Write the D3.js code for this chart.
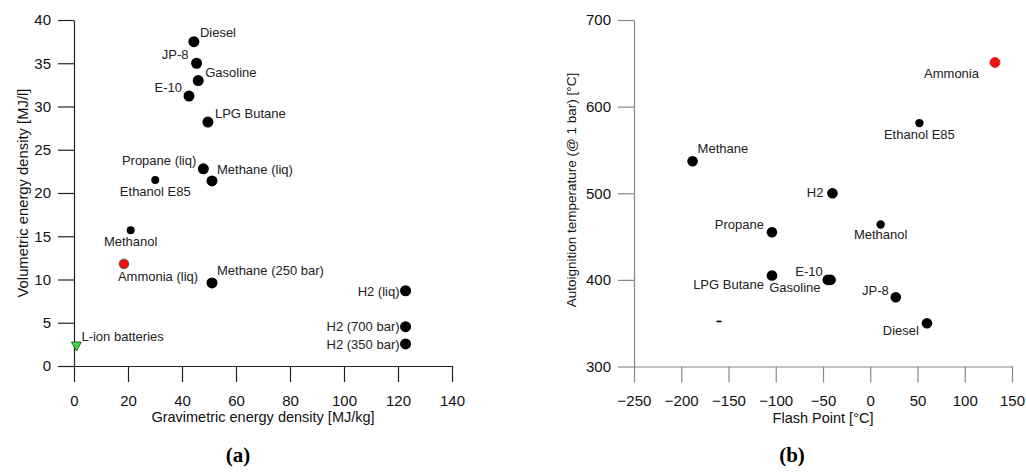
<!DOCTYPE html>
<html>
<head>
<meta charset="utf-8">
<script src="https://cdn.jsdelivr.net/npm/d3@7"></script>
<style>
  body { margin: 0; background: #fff; }
  svg text { font-family: "Liberation Sans", Arial, sans-serif; }
</style>
</head>
<body>
<script>
// ---- data (a): gravimetric vs volumetric energy density
var fuelsA = ["Diesel", "JP-8", "Gasoline", "E-10", "LPG Butane", "Propane (liq)", "Methane (liq)",
  "Ethanol E85", "Methanol", "Ammonia (liq)", "Methane (250 bar)", "H2 (liq)", "H2 (700 bar)",
  "H2 (350 bar)", "L-ion batteries"];
var gravA = [44.4, 45.4, 46.0, 42.6, 49.6, 47.9, 51.1, 30.1, 21.0, 18.5, 51.1, 122.8, 122.8, 122.8, 0.9];
var volA = [37.5, 35.0, 33.0, 31.2, 28.2, 22.8, 21.4, 21.5, 15.7, 11.8, 9.6, 8.7, 4.55, 2.55, 2.2];

// ---- data (b): flash point vs autoignition temperature
var fuelsB = ["Ammonia", "Ethanol E85", "H2", "Methanol", "Propane", "Methane", "LPG Butane",
  "Gasoline", "E-10", "JP-8", "Diesel", ""];
var flashB = [132, 52, -40, 11, -104, -188, -104, -42, -45, 27, 60, -160];
var autoB = [651, 581, 500, 464, 455, 537, 405, 400, 400, 380, 350, 352];

var xTicksA = [0, 20, 40, 60, 80, 100, 120, 140];
var yTicksA = [0, 5, 10, 15, 20, 25, 30, 35, 40];
var xTicksB = [-250, -200, -150, -100, -50, 0, 50, 100, 150];
var yTicksB = [300, 400, 500, 600, 700];

// label placement [dx, dy, anchor]
var labA = {
  "Diesel": [6, -5, "start"], "JP-8": [-8, -4, "end"], "Gasoline": [7, -4, "start"],
  "E-10": [-7, -4, "end"], "LPG Butane": [7, -4, "start"], "Propane (liq)": [-7, -4, "end"],
  "Methane (liq)": [5, -7, "start"], "Ethanol E85": [0, 16, "middle"], "Methanol": [0, 16, "middle"],
  "Ammonia (liq)": [-6, 17, "start"], "Methane (250 bar)": [5, -8, "start"],
  "H2 (liq)": [-6, 5, "end"], "H2 (700 bar)": [-6, 4, "end"], "H2 (350 bar)": [-6, 5, "end"],
  "L-ion batteries": [5, -6, "start"]
};
var labB = {
  "Ammonia": [-16, 16, "end"], "Ethanol E85": [0, 16, "middle"], "H2": [-9, 4, "end"],
  "Methanol": [0, 15, "middle"], "Propane": [-8, -3, "end"], "Methane": [5, -8, "start"],
  "LPG Butane": [-8, 13, "end"], "Gasoline": [-10, 12, "end"], "E-10": [-5, -4, "end"],
  "JP-8": [-7, -2, "end"], "Diesel": [-8, 12, "end"]
};
var smallDots = ["Ethanol E85", "Methanol"];

var svg = d3.select("body").append("svg").attr("width", 1026).attr("height", 473);

function drawAxes(g, x, y, xt, yt, col, xStep, yStep) {
  var xMinor = d3.range(xt[0] + xStep / 2, xt[xt.length - 1], xStep);
  var yMinor = d3.range(yt[0] + yStep / 2, yt[yt.length - 1], yStep);
  var y0 = y.range()[0], x0 = x.range()[0];
  var gx = g.append("g").attr("transform", "translate(0," + y0 + ")");
  gx.call(d3.axisBottom(x).tickValues(xMinor).tickFormat("").tickSize(8).tickSizeOuter(0));
  gx.call(d3.axisBottom(x).tickValues(xt).tickSize(16).tickSizeOuter(0).tickPadding(13));
  var gy = g.append("g").attr("transform", "translate(" + x0 + ",0)");
  gy.call(d3.axisLeft(y).tickValues(yMinor).tickFormat("").tickSize(8).tickSizeOuter(0));
  gy.call(d3.axisLeft(y).tickValues(yt).tickSize(16).tickSizeOuter(0).tickPadding(7));
  g.selectAll(".domain, .tick line").attr("stroke", col).attr("stroke-width", 1.2);
  g.selectAll(".tick text").attr("font-size", 15).attr("fill", "#111")
    .style("font-family", '"Liberation Sans", Arial, sans-serif');
}

// ---------- chart (a)
var xA = d3.scaleLinear().domain([0, 140]).range([74, 452]);
var yA = d3.scaleLinear().domain([0, 40]).range([366, 20]);
var gA = svg.append("g");
drawAxes(gA, xA, yA, xTicksA, yTicksA, "#222", 20, 5);

gA.append("text").attr("x", 263).attr("y", 422).attr("text-anchor", "middle")
  .attr("font-size", 14.5).attr("fill", "#111").text("Gravimetric energy density [MJ/kg]");
gA.append("text").attr("transform", "translate(28,193) rotate(-90)").attr("text-anchor", "middle")
  .attr("font-size", 14.8).attr("fill", "#111").text("Volumetric energy density [MJ/l]");

fuelsA.forEach(function(name, i) {
  var px = xA(gravA[i]), py = yA(volA[i]);
  if (name === "L-ion batteries") {
    gA.append("path").attr("d", "M" + (px - 5) + "," + (py - 5) + "L" + (px + 5) + "," + (py - 5) + "L" + px + "," + (py + 4) + "Z")
      .attr("fill", "#33e033").attr("stroke", "#333").attr("stroke-width", 0.8);
  } else if (name === "Ammonia (liq)") {
    gA.append("circle").attr("cx", px).attr("cy", py).attr("r", 4.8)
      .attr("fill", "#f01010").attr("stroke", "#444").attr("stroke-width", 0.8);
  } else {
    gA.append("circle").attr("cx", px).attr("cy", py)
      .attr("r", smallDots.indexOf(name) >= 0 ? 4 : 5.5).attr("fill", "#000");
  }
  var l = labA[name];
  gA.append("text").attr("x", px + l[0]).attr("y", py + l[1]).attr("text-anchor", l[2])
    .attr("font-size", 13).attr("fill", "#222").text(name);
});

svg.append("text").attr("x", 238).attr("y", 462).attr("text-anchor", "middle")
  .attr("font-size", 21).attr("font-weight", "bold")
  .style("font-family", '"Liberation Serif", "DejaVu Serif", serif').text("(a)");

// ---------- chart (b)
var xB = d3.scaleLinear().domain([-250, 150]).range([634, 1012]);
var yB = d3.scaleLinear().domain([300, 700]).range([366.5, 20]);
var gB = svg.append("g");
drawAxes(gB, xB, yB, xTicksB, yTicksB, "#888", 50, 100);

gB.append("text").attr("x", 823).attr("y", 423).attr("text-anchor", "middle")
  .attr("font-size", 14.5).attr("fill", "#111").text("Flash Point [°C]");
gB.append("text").attr("transform", "translate(576,190) rotate(-90)").attr("text-anchor", "middle")
  .attr("font-size", 13.5).attr("fill", "#111").text("Autoignition temperature (@ 1 bar) [°C]");

fuelsB.forEach(function(name, i) {
  var px = xB(flashB[i]), py = yB(autoB[i]);
  if (name === "") {
    gB.append("line").attr("x1", px - 2.5).attr("x2", px + 2.5).attr("y1", py).attr("y2", py)
      .attr("stroke", "#000").attr("stroke-width", 1.6);
    return;
  }
  if (name === "Ammonia") {
    gB.append("circle").attr("cx", px).attr("cy", py).attr("r", 5)
      .attr("fill", "#f01010").attr("stroke", "#e02020").attr("stroke-width", 0.8);
  } else {
    gB.append("circle").attr("cx", px).attr("cy", py)
      .attr("r", smallDots.indexOf(name) >= 0 ? 4.2 : 5.3).attr("fill", "#000");
  }
  var l = labB[name];
  gB.append("text").attr("x", px + l[0]).attr("y", py + l[1]).attr("text-anchor", l[2])
    .attr("font-size", 13).attr("fill", "#222").text(name);
});

svg.append("text").attr("x", 792).attr("y", 462).attr("text-anchor", "middle")
  .attr("font-size", 21).attr("font-weight", "bold")
  .style("font-family", '"Liberation Serif", "DejaVu Serif", serif').text("(b)");
</script>
</body>
</html>
